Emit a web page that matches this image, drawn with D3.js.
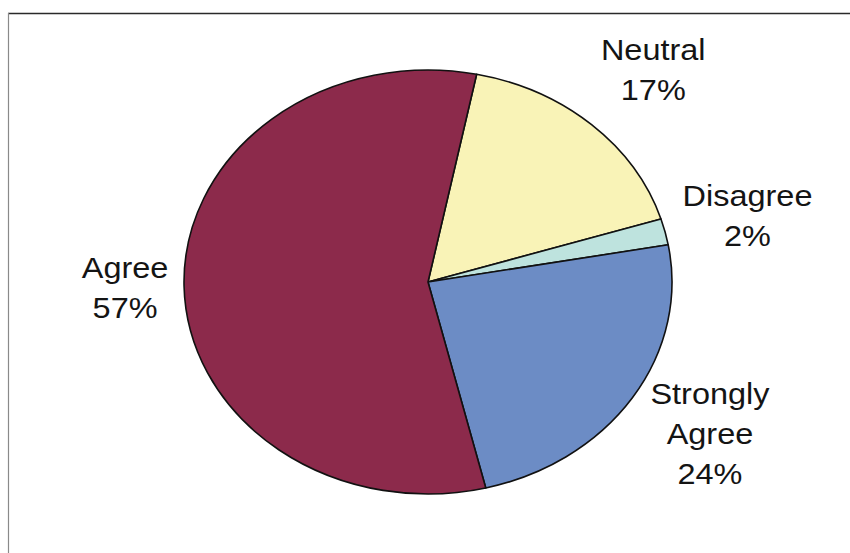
<!DOCTYPE html>
<html>
<head>
<meta charset="utf-8">
<script src="https://cdn.jsdelivr.net/npm/d3@7/dist/d3.min.js"></script>
<style>
  html, body { margin: 0; padding: 0; background: #fff; }
  svg { display: block; }
  text { font-family: "Liberation Sans", Arial, sans-serif; }
</style>
</head>
<body>
<svg id="chart" width="850" height="553"></svg>
<script>
// Survey responses, in the clockwise order the slices are drawn
const categories = ["Neutral", "Disagree", "Strongly Agree", "Agree"];
const values = [17, 2, 24, 57];
const labelLines = [["Neutral"], ["Disagree"], ["Strongly", "Agree"], ["Agree"]];
const sliceColors = ["#f9f3b7", "#bee3de", "#6c8cc5", "#8c2a4b"];
// small hand adjustments to the label positions (px)
const labelNudge = [[2, 2], [-4, 2], [3, -7], [30, 0]];

const width = 850, height = 553;
const cx = 428, cy = 282;
const radius = 244;
const squash = 212 / 244;          // pie is drawn as a flattened ellipse
const labelRadius = 333;
const startDeg = 11.5;

const svg = d3.select("#chart");
svg.append("rect").attr("width", width).attr("height", height).attr("fill", "#fff");

// chart frame (top and left edges)
svg.append("line")
  .attr("x1", 8).attr("x2", width).attr("y1", 13.5).attr("y2", 13.5)
  .attr("stroke", "#2a2a2a").attr("stroke-width", 1.4);
svg.append("line")
  .attr("x1", 8.5).attr("x2", 8.5).attr("y1", 13).attr("y2", height)
  .attr("stroke", "#8a8a8a").attr("stroke-width", 1.2);

const start = startDeg * Math.PI / 180;
const pie = d3.pie().sort(null).value(d => d)
  .startAngle(start).endAngle(start + 2 * Math.PI);
const arcs = pie(values);

const arc = d3.arc().innerRadius(0).outerRadius(radius);

const g = svg.append("g")
  .attr("transform", `translate(${cx},${cy}) scale(1,${squash})`);

g.selectAll("path")
  .data(arcs)
  .join("path")
  .attr("d", arc)
  .attr("fill", (d, i) => sliceColors[i])
  .attr("stroke", "#111")
  .attr("stroke-width", 1.6)
  .attr("stroke-linejoin", "round")
  .attr("vector-effect", "non-scaling-stroke");

// data labels: name line(s) plus percentage, placed on a ring outside the pie
const fontSize = 29, lineGap = 40, capH = 21;
const total = d3.sum(values);
const fmt = d3.format(".0%");

arcs.forEach((d, i) => {
  const a = (d.startAngle + d.endAngle) / 2;
  const lx = cx + labelRadius * Math.sin(a) + labelNudge[i][0];
  const ly = cy - labelRadius * squash * Math.cos(a) + labelNudge[i][1];
  const lines = labelLines[i].concat([fmt(values[i] / total)]);
  const blockH = capH + lineGap * (lines.length - 1);
  const firstBase = ly - blockH / 2 + capH;
  lines.forEach((t, k) => {
    svg.append("text")
      .attr("transform", `translate(${lx},${firstBase + k * lineGap}) scale(1.12,1)`)
      .attr("text-anchor", "middle")
      .attr("font-size", fontSize)
      .attr("fill", "#141414")
      .text(t);
  });
});
</script>
</body>
</html>
